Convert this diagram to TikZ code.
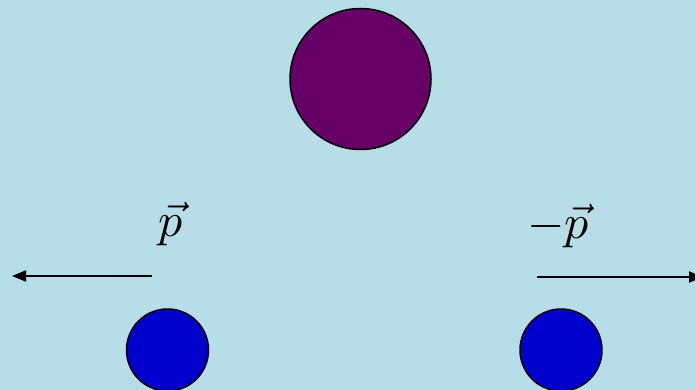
\documentclass[tikz,border=0pt]{standalone}
\usepackage{amsmath, amssymb}
\usepackage{tikz}
\usepackage{xcolor}
\usetikzlibrary{arrows.meta, positioning}
\definecolor{bgblue}{HTML}{B7DDE8}
\definecolor{heavypurple}{HTML}{660066}
\definecolor{lightblue}{HTML}{0000CC}
\newcommand{\bigmath}[1]{\scalebox{4.8}{$#1$}}

\begin{document}
\begin{tikzpicture}[x=1pt, y=-1pt,
    ball/.style={circle, draw=black, line width=1.5pt, inner sep=0pt},
    momentum/.style={line width=1.8pt, -{Triangle[length=14pt, width=11pt]}},
    lbl/.style={inner sep=0pt}]
\fill[bgblue] (0,0) rectangle (695,390);
\useasboundingbox (0,0) rectangle (695,390);
% parent and the two products
\node[ball, fill=heavypurple, minimum size=141pt] (parent) at (360.5,79) {};
\node[ball, fill=lightblue, minimum size=82pt] (left) at (167.5,350) {};
\node[ball, fill=lightblue, minimum size=82pt] (right) at (561,350) {};
% momenta
\coordinate (lstart) at (152,276);
\coordinate (lend) at (12,276);
\coordinate (rstart) at (537,277);
\coordinate (rend) at (703,277);
\draw[momentum] (lstart) -- (lend);
\draw[momentum] (rstart) -- (rend);
\node[lbl] (plabel) at (171,224) {\bigmath{\vec{p}}};
\node[lbl] (mplabel) at (558,226) {\bigmath{-\vec{p}}};
\end{tikzpicture}
\end{document}
